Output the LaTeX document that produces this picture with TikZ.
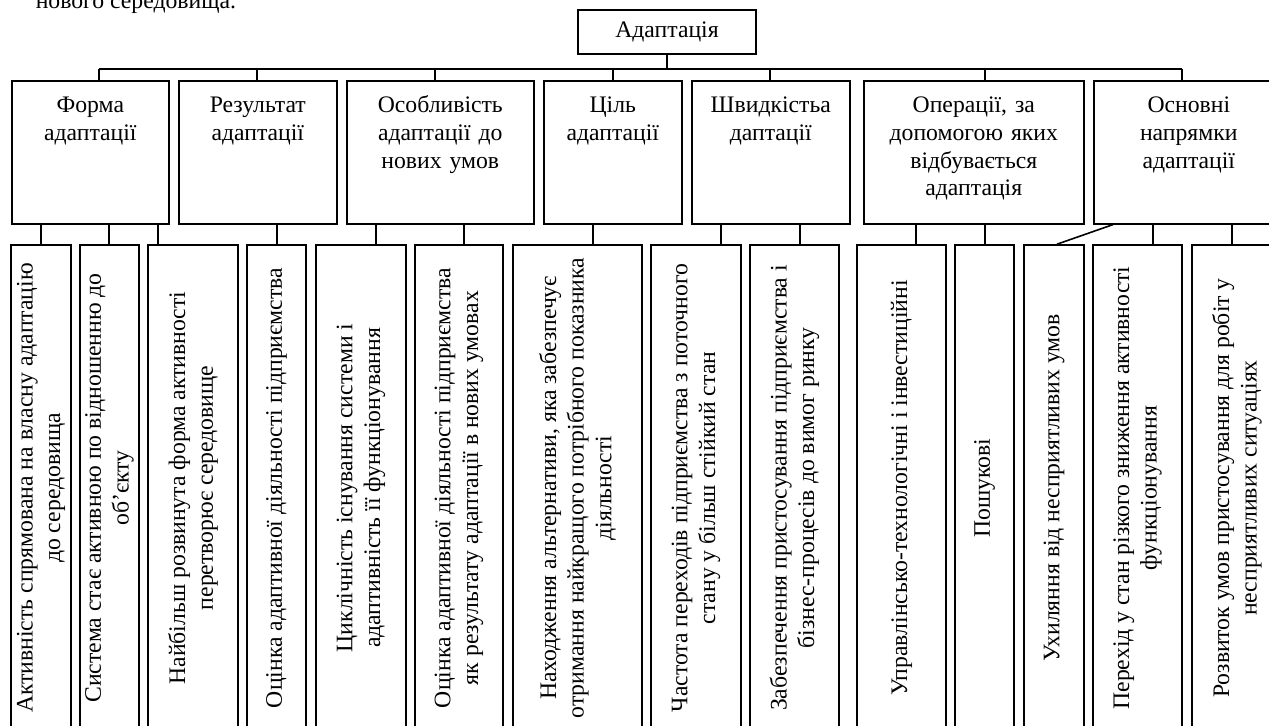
\documentclass[tikz,border=0pt]{standalone}
\usepackage{fontspec}
\setmainfont{Liberation Serif}
\usetikzlibrary{positioning, calc}
\tikzset{
  scheme/.style={
	x=0.5pt, y=-0.5pt, % one unit is one pixel of the layout, y runs down
	line width=0.8pt, % all frames and links
	font=\fontsize{11.85pt}{13.8pt}\selectfont,
  },
  topbox/.style={draw, inner sep=0pt, minimum width=89pt, minimum height=22pt},
  catbox/.style={draw, anchor=north west, inner sep=0pt, minimum height=71.5pt}, % second row
  cattext/.style={anchor=base, align=center, inner sep=0pt}, % titles hang from the top
  leafbox/.style={draw, inner sep=0pt, minimum height=243pt}, % vertical boxes
}
\newcommand{\vtext}[1]{\rotatebox{90}{\parbox{238pt}{\centering #1}}}

\begin{document}
\begin{tikzpicture}[scheme]
\useasboundingbox (0,0) rectangle (1269,726);
\clip (0,0) rectangle (1269,726);
\node[anchor=base west, inner sep=0pt] (prev) at (35,9) {нового середовища.};
\node[topbox] (adapt) at (667,32) {Адаптація};
% categories
\node[catbox, minimum width=78.5pt] (forma) at (11,80) {};
\node[catbox, minimum width=79pt] (rezult) at (178,80) {};
\node[catbox, minimum width=93.5pt] (osobl) at (346,80) {};
\node[catbox, minimum width=69pt] (cil) at (543,80) {};
\node[catbox, minimum width=79pt] (shvyd) at (691,80) {};
\node[catbox, minimum width=110pt] (oper) at (863,80) {};
\node[catbox, minimum width=95pt] (osnov) at (1093,80) {};
\node[cattext, text width=72pt] (forma-t) at ($(forma.north)+(0,33)$) {Форма\\адаптації};
\node[cattext, text width=72pt] (rezult-t) at ($(rezult.north)+(0,33)$) {Результат\\адаптації};
\node[cattext, text width=88pt] (osobl-t) at ($(osobl.north)+(0,33)$) {Особливість\\адаптації до\\нових умов};
\node[cattext, text width=64pt] (cil-t) at ($(cil.north)+(0,33)$) {Ціль\\адаптації};
\node[cattext, text width=74pt] (shvyd-t) at ($(shvyd.north)+(0,33)$) {Швидкістьа\\даптації};
\node[cattext, text width=104pt] (oper-t) at ($(oper.north)+(0,33)$) {Операції, за\\допомогою яких\\відбувається\\адаптація};
\node[cattext, text width=90pt] (osnov-t) at ($(osnov.north)+(0,33)$) {Основні\\напрямки\\адаптації};
% leaves
\node[leafbox, minimum width=30pt] (l1) at (41,488) {\vtext{Активність спрямована на власну адаптацію\\до середовища}};
\node[leafbox, minimum width=29.5pt] (l2) at (109.5,488) {\vtext{Система стає активною по відношенню до\\об’єкту}};
\node[leafbox, minimum width=45pt] (l3) at (193,488) {\vtext{Найбільш розвинута форма активності\\перетворює середовище}};
\node[leafbox, minimum width=29.5pt] (l4) at (276.5,488) {\vtext{Оцінка адаптивної діяльності підприємства}};
\node[leafbox, minimum width=45pt] (l5) at (361,488) {\vtext{Циклічність існування системи і\\адаптивність її функціонування}};
\node[leafbox, minimum width=44pt] (l6) at (459,488) {\vtext{Оцінка адаптивної діяльності підприємства\\як результату адаптації в нових умовах}};
\node[leafbox, minimum width=64.5pt] (l7) at (577.5,488) {\vtext{Находження альтернативи, яка забезпечує\\отримання найкращого потрібного показника\\діяльності}};
\node[leafbox, minimum width=45pt] (l8) at (696,488) {\vtext{Частота переходів підприємства з поточного\\стану у більш стійкий стан}};
\node[leafbox, minimum width=44.5pt] (l9) at (794.5,488) {\vtext{Забезпечення пристосування підприємства і\\бізнес-процесів до вимог ринку}};
\node[leafbox, minimum width=44.5pt] (l10) at (901.5,488) {\vtext{Управлінсько-технологічні і інвестиційні}};
\node[leafbox, minimum width=29.5pt] (l11) at (984.5,488) {\vtext{Пошукові}};
\node[leafbox, minimum width=30pt] (l12) at (1054,488) {\vtext{Ухиляння від несприятливих умов}};
\node[leafbox, minimum width=44.5pt] (l13) at (1137.5,488) {\vtext{Перехід у стан різкого зниження активності\\функціонування}};
\node[leafbox, minimum width=45pt] (l14) at (1237,488) {\vtext{Розвиток умов пристосування для робіт у\\несприятливих ситуаціях}};
% links
\coordinate (bus-w) at (99,69);
\coordinate (bus-e) at (1182,69);
\draw (adapt.south) -- (adapt.south |- bus-w);
\draw (bus-w) -- (bus-e);
\foreach \c/\x in {forma/99, rezult/257, osobl/435, cil/613, shvyd/770, oper/985, osnov/1182} {
  \coordinate (k) at (\x,0);
  \draw (\c.north -| k) -- (bus-w -| k);
}
\foreach \p/\c/\x in {forma/l1/41, forma/l2/109, forma/l3/158, rezult/l4/277, osobl/l5/376, osobl/l6/464, cil/l7/593, shvyd/l8/721, shvyd/l9/800, oper/l10/916, oper/l11/985, osnov/l13/1153, osnov/l14/1232} {
  \coordinate (k) at (\x,0);
  \draw (\p.south -| k) -- (\c.north -| k);
}
\coordinate (kink) at (1113,0);
\draw (osnov.south -| kink) -- ($(l12.north)+(3,0)$);
\end{tikzpicture}
\end{document}
